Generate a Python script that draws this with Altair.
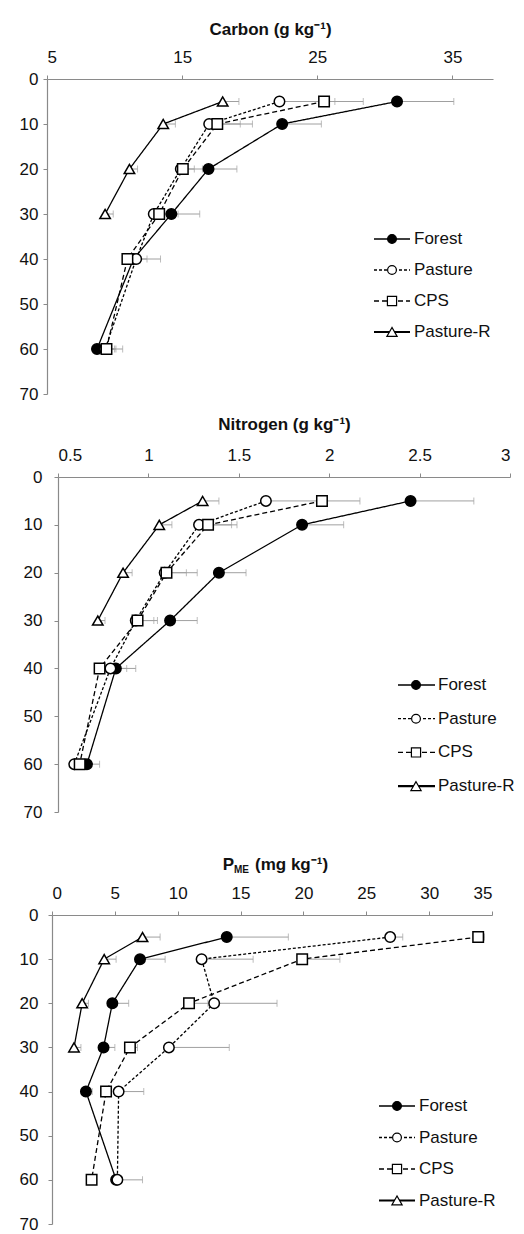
import altair as alt
import pandas as pd

FONT = "Liberation Sans"
DEPTHS = [5, 10, 20, 30, 40, 60]
SERIES = ["Forest", "Pasture", "CPS", "Pasture-R"]

# ---- Carbon (g kg-1): mean and one-sided error by depth (cm)
c_forest = [30.9, 22.4, 16.95, 14.2, 11.4, 8.7]
c_forest_err = [4.2, 2.9, 2.1, 2.1, 2.0, 1.3]
c_pasture = [22.2, 17.0, 14.9, 12.9, 11.6, 9.3]
c_pasture_err = [4.1, 2.3, 1.0, 0.8, 0.8, 0.8]
c_cps = [25.5, 17.6, 15.05, 13.3, 10.95, 9.4]
c_cps_err = [2.9, 2.6, 1.45, 1.4, 0.6, 1.2]
c_pr = [18.0, 13.6, 11.1, 9.3, None, None]
c_pr_err = [1.2, 0.9, 0.6, 0.6, None, None]

# ---- Nitrogen (g kg-1)
n_forest = [2.45, 1.85, 1.39, 1.12, 0.82, 0.66]
n_forest_err = [0.35, 0.23, 0.15, 0.15, 0.11, 0.07]
n_pasture = [1.65, 1.28, 1.09, 0.93, 0.79, 0.59]
n_pasture_err = [0.28, 0.18, 0.12, 0.10, 0.09, 0.05]
n_cps = [1.96, 1.33, 1.10, 0.94, 0.73, 0.62]
n_cps_err = [0.21, 0.16, 0.17, 0.11, 0.05, 0.04]
n_pr = [1.30, 1.06, 0.86, 0.72, None, None]
n_pr_err = [0.09, 0.07, 0.05, 0.04, None, None]

# ---- P_ME (mg kg-1)
p_forest = [13.9, 7.0, 4.8, 4.1, 2.7, 5.1]
p_forest_err = [4.9, 2.0, 1.3, 0.9, 0.5, 0.5]
p_pasture = [26.9, 11.9, 12.9, 9.3, 5.3, 5.2]
p_pasture_err = [1.0, 4.1, 5.0, 4.8, 2.0, 2.0]
p_cps = [33.9, 19.9, 10.9, 6.2, 4.3, 3.15]
p_cps_err = [0.5, 3.0, 1.5, 0.6, 0.4, 0.3]
p_pr = [7.2, 4.15, 2.4, 1.75, None, None]
p_pr_err = [1.4, 0.95, 0.5, 0.55, None, None]

C_TICKS = [5, 15, 25, 35]
N_TICKS = [0.5, 1, 1.5, 2, 2.5, 3]
P_TICKS = [0, 5, 10, 15, 20, 25, 30, 35]
DEPTH_TICKS = [0, 10, 20, 30, 40, 50, 60, 70]

C_TITLE = "Carbon (g kg\u207b\u00b9)"
N_TITLE = "Nitrogen (g kg\u207b\u00b9)"
P_TITLE_MAIN = "P"
P_TITLE_SUB = "ME"
P_TITLE_UNIT = "(mg kg\u207b\u00b9)"

# ---- styles
DASHES = [[1, 0], [3, 2], [5, 3], [1, 0]]
WIDTHS = [1.3, 1.3, 1.3, 2.2]
SHAPES = ["circle", "circle", "square", "triangle-up"]
FILLS = ["black", "white", "white", "white"]
SIZES = [110, 110, 120, 150]
ERR_COLOR = "#a0a0a0"


def make_df(means, errs):
    rows = []
    for s, m, e in zip(SERIES, means, errs):
        for d, v, ev in zip(DEPTHS, m, e):
            if v is None:
                continue
            rows.append({"series": s, "depth": d, "value": v,
                         "hi": v + (ev if ev is not None else 0)})
    return pd.DataFrame(rows)


def panel(df, width, height, xdomain, xticks, xtitle, label_pad, title_pad,
          legend, extra_layers=()):
    xaxis_kw = dict(orient="top", values=xticks, format="~g", tickSize=4,
                    labelPadding=9, titlePadding=title_pad, grid=False)
    xaxis_kw["title"] = xtitle
    xs = alt.Scale(domain=xdomain, nice=False, zero=False)
    ys = alt.Scale(domain=[0, 70], reverse=True, nice=False, zero=False)
    x = alt.X("value:Q", scale=xs, axis=alt.Axis(**xaxis_kw))
    y = alt.Y("depth:Q", scale=ys,
              axis=alt.Axis(values=DEPTH_TICKS, title=None, tickSize=4,
                            labelPadding=label_pad, grid=False))
    base = alt.Chart(df)
    err_rule = base.mark_rule(color=ERR_COLOR, strokeWidth=1).encode(
        x=x, x2="hi:Q", y=y)
    err_cap = base.mark_tick(orient="vertical", color=ERR_COLOR, size=7,
                             thickness=1).encode(
        x=alt.X("hi:Q", scale=xs), y=alt.Y("depth:Q", scale=ys))
    lines = base.mark_line(color="black").encode(
        x=x, y=y,
        strokeDash=alt.StrokeDash("series:N",
                                  scale=alt.Scale(domain=SERIES, range=DASHES),
                                  legend=None),
        strokeWidth=alt.StrokeWidth("series:N",
                                    scale=alt.Scale(domain=SERIES, range=WIDTHS),
                                    legend=None),
        order=alt.Order("depth:Q"),
    )
    pts = base.mark_point(filled=True, stroke="black", strokeWidth=1.5,
                          opacity=1).encode(
        x=x, y=y,
        shape=alt.Shape("series:N",
                        scale=alt.Scale(domain=SERIES, range=SHAPES), legend=None),
        fill=alt.Fill("series:N",
                      scale=alt.Scale(domain=SERIES, range=FILLS), legend=None),
        size=alt.Size("series:N",
                      scale=alt.Scale(domain=SERIES, range=SIZES), legend=None),
    )
    layers = [err_rule, err_cap, lines, pts]

    # legend (drawn inside the plot area, lower right)
    lx0, lx1, lm, lt, ly0, dy = legend
    for i, s in enumerate(SERIES):
        ldf = pd.DataFrame({"series": [s]})
        yy = ly0 + i * dy
        layers.append(alt.Chart(ldf).mark_rule(
            color="black", strokeDash=DASHES[i], strokeWidth=WIDTHS[i]).encode(
            x=alt.value(lx0), x2=alt.value(lx1), y=alt.value(yy)))
        layers.append(alt.Chart(ldf).mark_point(
            filled=True, shape=SHAPES[i], fill=FILLS[i], stroke="black",
            strokeWidth=1.2, opacity=1, size=SIZES[i] * 0.7).encode(
            x=alt.value(lm), y=alt.value(yy)))
        layers.append(alt.Chart(ldf).mark_text(
            align="left", baseline="middle", font=FONT, fontSize=17,
            color="#111").encode(
            x=alt.value(lt), y=alt.value(yy), text="series:N"))
    layers.extend(extra_layers)
    return alt.layer(*layers).properties(width=width, height=height)


def spacer(w):
    return alt.Chart(pd.DataFrame({"s": [""]})).mark_text(opacity=0).encode(
        text="s:N").properties(width=w, height=1)


c_df = make_df([c_forest, c_pasture, c_cps, c_pr],
               [c_forest_err, c_pasture_err, c_cps_err, c_pr_err])
n_df = make_df([n_forest, n_pasture, n_cps, n_pr],
               [n_forest_err, n_pasture_err, n_cps_err, n_pr_err])
p_df = make_df([p_forest, p_pasture, p_cps, p_pr],
               [p_forest_err, p_pasture_err, p_cps_err, p_pr_err])

top = panel(c_df, 446, 315, [5, 38], C_TICKS, C_TITLE, 5, 10,
            (327, 363, 345, 367, 160, 31))
mid = panel(n_df, 452, 335, [0.5, 3], N_TICKS, N_TITLE, 12, 13,
            (340, 377, 358, 380, 208, 33.7))

p_title = [
    alt.Chart(pd.DataFrame({"t": [P_TITLE_MAIN]})).mark_text(
        align="right", baseline="alphabetic", font=FONT, fontSize=17,
        fontWeight="bold", color="#111").encode(
        x=alt.value(182), y=alt.value(-45), text="t:N"),
    alt.Chart(pd.DataFrame({"t": [P_TITLE_SUB]})).mark_text(
        align="left", baseline="alphabetic", font=FONT, fontSize=10,
        fontWeight="bold", color="#111").encode(
        x=alt.value(182), y=alt.value(-42), text="t:N"),
    alt.Chart(pd.DataFrame({"t": [P_TITLE_UNIT]})).mark_text(
        align="left", baseline="alphabetic", font=FONT, fontSize=17,
        fontWeight="bold", color="#111").encode(
        x=alt.value(203), y=alt.value(-45), text="t:N"),
]
bot = panel(p_df, 440, 309, [0, 35], P_TICKS, None, 10, 10,
            (327, 363, 345, 367, 191, 31.5), extra_layers=p_title)

row_top = alt.hconcat(spacer(6), top, spacing=0)
row_mid = alt.hconcat(spacer(10), mid, spacing=0)
row_bot = alt.hconcat(spacer(6), bot, spacing=0)

upper = alt.vconcat(row_top, row_mid, spacing=13)
chart = alt.vconcat(upper, row_bot, spacing=36).properties(
    padding={"left": 5, "top": 12, "right": 0, "bottom": 0}
).configure_view(stroke=None).configure_axis(
    domainColor="#8a8a8a", tickColor="#8a8a8a", labelColor="#111",
    labelFont=FONT, labelFontSize=17, titleFont=FONT, titleFontSize=17,
    titleFontWeight="bold", titleColor="#111", domainWidth=1.2,
)

chart.save("out.html", embed_options={"renderer": "svg", "actions": False})
